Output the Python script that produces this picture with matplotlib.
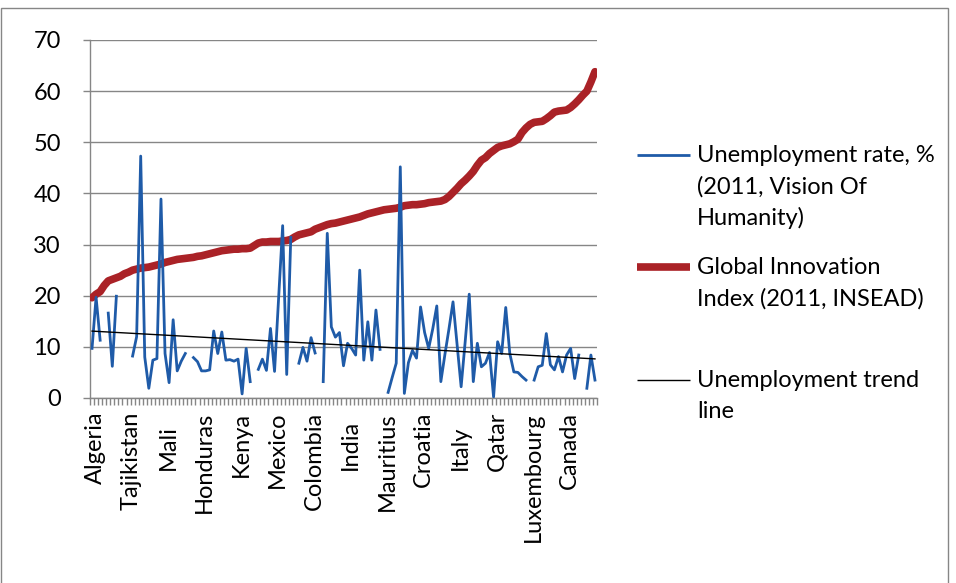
import numpy as np
import matplotlib
matplotlib.use("Agg")
import matplotlib.pyplot as plt
import matplotlib.transforms as mtransforms
from matplotlib.lines import Line2D
from matplotlib.patches import Rectangle

nan = np.nan

# Countries sorted by Global Innovation Index (ascending); every 9th one is labelled
label_idx = list(range(0, 125, 9))
label_names = ["Algeria", "Tajikistan", "Mali", "Honduras", "Kenya", "Mexico",
               "Colombia", "India", "Mauritius", "Croatia", "Italy", "Qatar",
               "Luxembourg", "Canada"]

# Unemployment rate, % (blank where no figure is available)
unemployment = [
    9.7, 19.7, 11.3, nan, 16.6, 6.2, 19.9, nan, nan, nan,
    8.2, 12.0, 47.3, 8.0, 1.9, 7.4, 7.7, 38.9, 8.7, 3.0,
    15.3, 5.3, 7.2, 8.7, nan, 7.9, 7.1, 5.3, 5.3, 5.5,
    13.1, 8.7, 12.9, 7.4, 7.5, 7.2, 7.6, 0.8, 9.7, 3.2,
    nan, 5.6, 7.6, 5.4, 13.6, 5.2, 19.5, 33.7, 4.6, 31.4,
    nan, 6.8, 9.9, 7.2, 11.8, 8.8, nan, 3.2, 32.2, 13.9,
    11.9, 12.8, 6.3, 10.7, 9.7, 8.4, 25.0, 7.4, 14.9, 7.4,
    17.2, 9.5, nan, 1.1, 4.0, 6.8, 45.2, 0.9, 6.9, 9.3,
    7.8, 17.8, 12.8, 9.7, 13.5, 18.0, 3.2, 8.5, 13.5, 18.8,
    10.5, 2.2, 11.0, 20.3, 3.2, 10.7, 6.1, 6.8, 8.9, 0.2,
    11.0, 8.7, 17.7, 8.7, 5.1, 5.0, 4.2, 3.5, nan, 3.5,
    6.1, 6.4, 12.6, 6.5, 5.5, 8.1, 5.1, 8.4, 9.7, 3.8,
    8.4, nan, 1.9, 8.4, 3.5,
]

# Global Innovation Index score
gii = [
    19.6, 20.3, 20.8, 22.0, 22.9, 23.2, 23.5, 23.8, 24.3, 24.6,
    25.0, 25.2, 25.4, 25.5, 25.6, 25.8, 26.0, 26.2, 26.5, 26.7,
    26.9, 27.1, 27.2, 27.3, 27.4, 27.5, 27.7, 27.8, 28.0, 28.2,
    28.4, 28.6, 28.8, 28.9, 29.0, 29.1, 29.1, 29.2, 29.2, 29.3,
    29.8, 30.3, 30.5, 30.5, 30.6, 30.6, 30.6, 30.7, 30.8, 31.0,
    31.5, 31.9, 32.1, 32.3, 32.5, 33.0, 33.3, 33.6, 33.9, 34.1,
    34.2, 34.4, 34.6, 34.8, 35.0, 35.2, 35.4, 35.7, 36.0, 36.2,
    36.4, 36.6, 36.8, 36.9, 37.0, 37.1, 37.3, 37.6, 37.7, 37.8,
    37.8, 37.9, 38.0, 38.2, 38.3, 38.4, 38.5, 38.8, 39.4, 40.2,
    41.0, 41.9, 42.6, 43.4, 44.3, 45.5, 46.5, 47.0, 47.8, 48.4,
    49.0, 49.3, 49.5, 49.7, 50.1, 50.6, 51.9, 52.8, 53.5, 53.9,
    54.0, 54.1, 54.6, 55.2, 55.9, 56.1, 56.2, 56.3, 56.8, 57.5,
    58.3, 59.2, 60.0, 61.8, 63.8,
]

series_labels = [
    "Unemployment rate, %\n(2011, Vision Of\nHumanity)",
    "Global Innovation\nIndex (2011, INSEAD)",
    "Unemployment trend\nline",
]

BLUE = "#1f5ba8"
RED = "#aa2227"
GRID = "#868686"
FONT = ["Lato", "DejaVu Sans"]
FS = 17

plt.rcParams["font.family"] = FONT

W, H = 956, 583
fig = plt.figure(figsize=(W / 100, H / 100), dpi=100)

AX_L, AX_R, AX_T, AX_B = 90, 597, 40, 398
ax = fig.add_axes([AX_L / W, 1 - AX_B / H, (AX_R - AX_L) / W, (AX_B - AX_T) / H])

x = np.arange(len(gii))
u = np.array(unemployment, dtype=float)
valid = ~np.isnan(u)

ax.plot(x, gii, color=RED, lw=5.5, solid_capstyle="round",
        solid_joinstyle="round", zorder=3)
ax.plot(x, u, color=BLUE, lw=2.0, solid_joinstyle="round", zorder=4)

# Linear trend of the unemployment series
coef = np.polyfit(x[valid], u[valid], 1)
ends = np.array([x[0], x[-1]])
ax.plot(ends, np.polyval(coef, ends), color="black", lw=1.0, zorder=5)

ax.set_xlim(-0.5, len(gii) - 0.5)
ax.set_ylim(0, 70)
ax.set_yticks(range(0, 71, 10))
ax.yaxis.grid(True, color=GRID, lw=1.0)
ax.set_axisbelow(True)

for side in ("top", "right"):
    ax.spines[side].set_visible(False)
for side in ("left", "bottom"):
    ax.spines[side].set_color(GRID)
    ax.spines[side].set_linewidth(1.0)

ax.set_xticks(label_idx)
ax.set_xticklabels([])
ax.set_xticks(np.arange(-0.5, len(gii), 1.0), minor=True)
ax.tick_params(axis="x", which="major", length=0)
ax.tick_params(axis="x", which="minor", length=5, width=1, color=GRID)
ax.tick_params(axis="y", length=5, width=1, color=GRID, pad=16, labelsize=FS)

# Vertical category labels: short names end at a common baseline row,
# longer names hang from just below the axis
ax_h = AX_B - AX_T
label_tf = mtransforms.offset_copy(ax.get_xaxis_transform(), fig=fig,
                                   x=3, y=0, units="dots")
renderer = fig.canvas.get_renderer()
low_edge, high_edge = 470, 412
for i, name in zip(label_idx, label_names):
    t = ax.text(i, -(low_edge - AX_B) / ax_h, name, rotation=90,
                ha="center", va="bottom", fontsize=FS, transform=label_tf)
    h = t.get_window_extent(renderer).height
    if h > low_edge - high_edge:
        t.set_y(-(high_edge - AX_B) / ax_h)
        t.set_va("top")

# Legend on the right: line sample next to the first line of each label
legend_rows = [
    (155, BLUE, 2.0, series_labels[0]),
    (267, RED, 5.5, series_labels[1]),
    (380, "black", 1.0, series_labels[2]),
]
line_step = 31.5
for y0, col, lw, text in legend_rows:
    fig.add_artist(Line2D([637 / W, 690 / W], [1 - y0 / H, 1 - y0 / H],
                          color=col, lw=lw, solid_capstyle="butt"))
    for k, line in enumerate(text.split("\n")):
        yy = y0 + k * line_step
        fig.text(697 / W, 1 - (yy + 7) / H, line, fontsize=FS,
                 ha="left", va="baseline", color="black")

# Chart frame
fig.add_artist(Rectangle((1 / W, -0.1), 947 / W, 1.1 - 8 / H, fill=False,
                         edgecolor=GRID, lw=1.0, transform=fig.transFigure))

fig.savefig("out.png", dpi=100)
